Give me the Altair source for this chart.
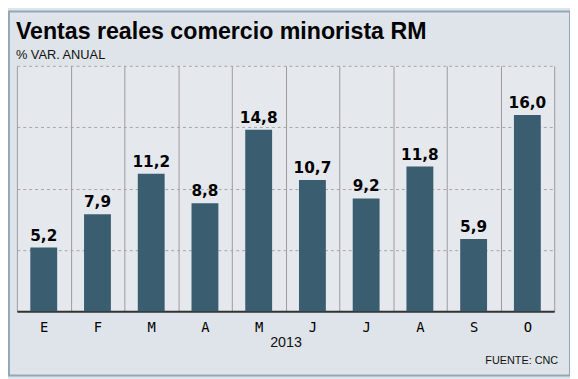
import altair as alt
import pandas as pd

meses = ["E", "F", "M", "A", "M", "J", "J", "A", "S", "O"]
valores = [5.2, 7.9, 11.2, 8.8, 14.8, 10.7, 9.2, 11.8, 5.9, 16.0]
anio = "2013"
titulo = "Ventas reales comercio minorista RM"
subtitulo = "% VAR. ANUAL"
fuente = "FUENTE: CNC"
y_ticks = [5, 10, 15, 20]

df = pd.DataFrame({"idx": list(range(len(meses))), "mes": meses, "valor": valores})

W, H = 545, 249
BAR = "#3A5E70"
BG = "#DFE4EA"
label_expr = "[" + ",".join(f"'{m}'" for m in meses) + "][datum.value]"

x = alt.X(
    "idx:O",
    scale=alt.Scale(paddingInner=0, paddingOuter=0),
    axis=alt.Axis(
        title=None, labelExpr=label_expr, labelAngle=0,
        labelFont="DejaVu Sans Mono", labelFontSize=14, labelColor="#000000",
        labelPadding=9, ticks=False, tickSize=0, tickBand="extent",
        grid=True, gridColor="#9a9a9a", gridWidth=1,
        domain=True, domainColor="#333333", domainWidth=2,
    ),
)
y = alt.Y(
    "valor:Q",
    scale=alt.Scale(domain=[0, 20], nice=False),
    axis=alt.Axis(
        title=None, labels=False, ticks=False, domain=False, values=y_ticks,
        grid=True, gridColor="#a5a5a5", gridDash=[3, 3], gridWidth=1,
    ),
)

base = alt.Chart(df)
bars = base.mark_bar(color=BAR, width=alt.RelativeBandSize(0.5)).encode(x=x, y=y)
etiquetas = base.transform_calculate(
    etiqueta="replace(format(datum.valor, '.1f'), '.', ',')"
).mark_text(
    font="DejaVu Sans", fontWeight="bold", fontSize=15.5,
    baseline="alphabetic", dy=-7, color="#000000",
).encode(x=x, y=y, text="etiqueta:N")


def texto(t, px, py, **kw):
    return alt.Chart(pd.DataFrame({"t": [t]})).mark_text(**kw).encode(
        x=alt.value(px), y=alt.value(py), text="t:N"
    )


t_titulo = texto(titulo, -1, -27, font="Liberation Sans", fontWeight="bold",
                 fontSize=23.5, align="left", baseline="alphabetic", color="#000000")
t_sub = texto(subtitulo, -1, -7.3, font="Liberation Sans", fontSize=13,
              align="left", baseline="alphabetic", color="#111111")
t_anio = texto(anio, 273, 285, font="Liberation Sans", fontSize=14.5,
               align="center", baseline="alphabetic", color="#111111")
t_fuente = texto(fuente, 549, 302, font="Liberation Sans", fontSize=11,
                 align="right", baseline="alphabetic", color="#111111")

marco = alt.Chart(pd.DataFrame({"k": [1]})).mark_rect(
    fillOpacity=0, stroke="#92A8B6", strokeWidth=2, clip=False
).encode(x=alt.value(-8), x2=alt.value(561), y=alt.value(-55), y2=alt.value(314))

chart = alt.layer(bars, etiquetas, t_titulo, t_sub, t_anio, t_fuente, marco).properties(
    width=W, height=H,
    autosize=alt.AutoSizeParams(type="none"),
    padding={"left": 9, "top": 56, "right": 16, "bottom": 66},
).configure(background=BG).configure_view(fill="#E5E9EE", stroke=None)

chart.save("out.html", embed_options={"renderer": "svg", "actions": False})
